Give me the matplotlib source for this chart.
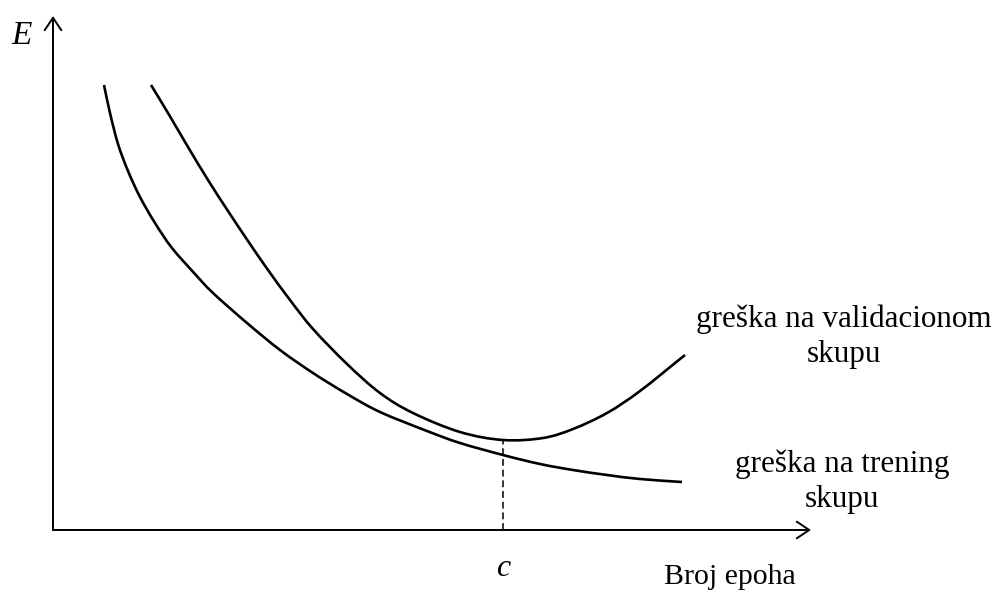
import numpy as np
import matplotlib.pyplot as plt
from matplotlib.path import Path
from matplotlib.patches import PathPatch

# epochs and error values (arbitrary units)
train_epochs = [51, 57, 65, 75, 87, 102, 119, 142, 160, 194, 227, 260, 294, 327, 374, 407,
                450, 487, 520, 554, 587, 629]
train_error = [445, 417, 386, 359, 333, 307, 282, 256, 237, 207, 180, 157, 136, 118, 99, 87,
               75, 66, 60, 55, 51, 48]

valid_epochs = [98, 115, 135, 155, 175, 195, 215, 237, 260, 294, 327, 360, 407, 450, 490,
                520, 554, 587, 632]
valid_error = [445, 417, 383, 350, 319, 289, 260, 230, 201, 166, 137, 117, 98, 90, 92,
               101, 117, 139, 175]

c_epoch = 450
c_error = 90


def smooth_path(xs, ys):
    # Catmull-Rom through the points, written as cubic Bezier segments
    pts = np.column_stack([xs, ys]).astype(float)
    ext = np.vstack([2 * pts[0] - pts[1], pts, 2 * pts[-1] - pts[-2]])
    verts = [pts[0]]
    codes = [Path.MOVETO]
    for i in range(1, len(ext) - 2):
        p0, p1, p2, p3 = ext[i - 1], ext[i], ext[i + 1], ext[i + 2]
        verts += [p1 + (p2 - p0) / 6, p2 - (p3 - p1) / 6, p2]
        codes += [Path.CURVE4] * 3
    return Path(verts, codes)


plt.rcParams['font.family'] = ['Liberation Serif', 'DejaVu Serif']

fig = plt.figure(figsize=(9.94, 5.90), dpi=100)
ax = fig.add_axes([0, 0, 1, 1])
ax.set_xlim(-53, 941)
ax.set_ylim(-60, 530)
ax.axis('off')

# axes with open arrow heads
arrow = dict(arrowstyle='->,head_length=0.45,head_width=0.3', color='black', lw=1.4,
             mutation_scale=20, shrinkA=0, shrinkB=0)
ax.annotate('', xy=(0, 514), xytext=(0, 0), arrowprops=arrow)
ax.annotate('', xy=(758, 0), xytext=(0, 0), arrowprops=arrow)

for xs, ys in [(train_epochs, train_error), (valid_epochs, valid_error)]:
    ax.add_patch(PathPatch(smooth_path(xs, ys), facecolor='none', edgecolor='black',
                           lw=1.9, capstyle='butt'))

# early stopping point
ax.plot([c_epoch, c_epoch], [0, c_error], color='black', lw=1.1, ls=(0, (4.5, 2.5)))

ax.text(-31, 494, 'E', fontsize=24, style='italic', ha='center', va='center')
ax.text(c_epoch, -38, 'c', fontsize=23, style='italic', ha='center', va='center')
ax.text(677, -47, 'Broj epoha', fontsize=21.5, ha='center', va='center')
ax.text(791, 193, 'greška na validacionom\nskupu', fontsize=22.4, ha='center', va='center',
        linespacing=1.28)
ax.text(789, 48, 'greška na trening\nskupu', fontsize=22.4, ha='center', va='center',
        linespacing=1.28)

fig.savefig('out.png', dpi=100)
